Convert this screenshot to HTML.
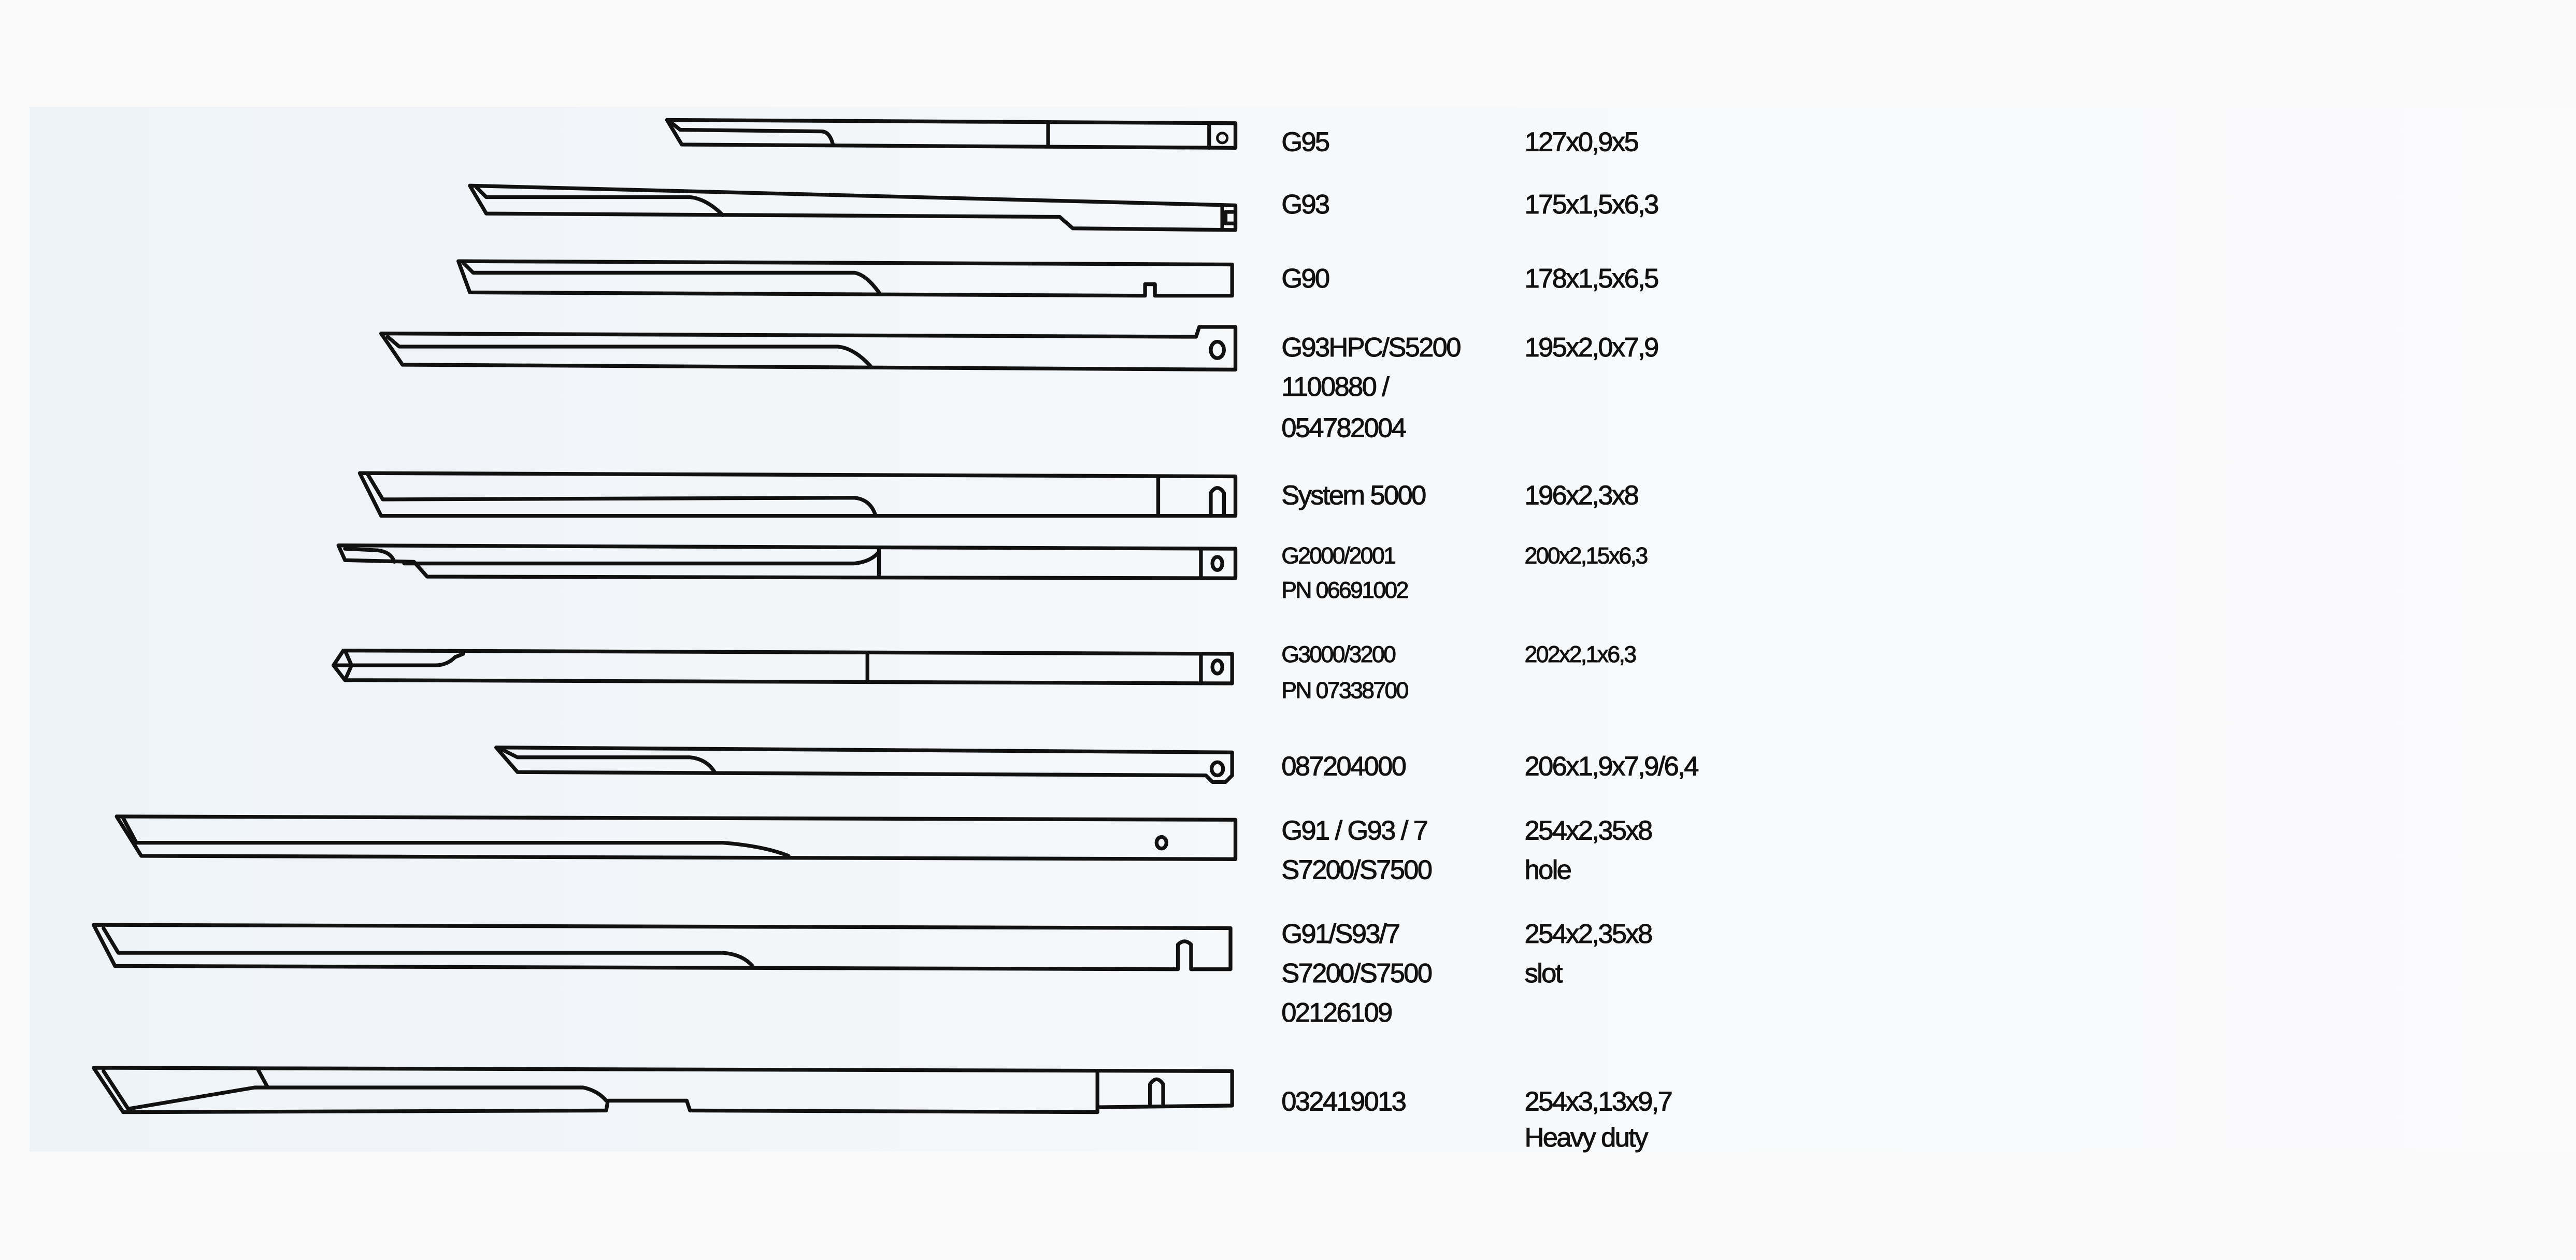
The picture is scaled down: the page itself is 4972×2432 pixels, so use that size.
<!DOCTYPE html>
<html><head><meta charset="utf-8"><style>
html,body{margin:0;padding:0;background:#fafafa;}
svg{display:block;}
text{font-family:"Liberation Sans",Arial,sans-serif;fill:#111;stroke:#111;stroke-width:0.35px;letter-spacing:-0.8px;}
.b{font-size:16.5px;}
.s{font-size:14px;}
</style></head><body>
<svg width="4972" height="2432" viewBox="0 0 1568 767" preserveAspectRatio="none" xmlns="http://www.w3.org/2000/svg">
<defs><linearGradient id="g" x1="0" x2="1" y1="0" y2="0"><stop offset="0" stop-color="#eef3f8"/><stop offset="0.5" stop-color="#f6f8fa"/><stop offset="1" stop-color="#fbfbfc"/></linearGradient></defs>
<rect width="1568" height="767" fill="#fafafa"/>
<rect x="18" y="65" width="1550" height="636" fill="url(#g)"/>
<g fill="none" stroke="#111" stroke-width="2.3" stroke-linejoin="round" stroke-linecap="round">
<!-- 1 G95 -->
<path d="M406,73 L752,75 L752,90 L415,88 Z"/>
<path d="M409,75 L414,79 L500,80 Q505,80 507,88"/>
<path d="M638,76 L638,89 M736,76 L736,90"/>
<circle cx="744" cy="84" r="3" stroke-width="1.6"/>
<!-- 2 G93 -->
<path d="M286,113 L752,125 L752,140 L653,139 L645,132 L296,130 Z"/>
<path d="M290,114 L296,120 L420,120 Q430,121 440,131"/>
<path d="M744,126 L744,139 M752,129 L746,129 L746,136 L752,136"/>
<!-- 3 G90 -->
<path d="M279,159 L750,161 L750,180 L703,180 L703,173 L697,173 L697,180 L286,178 Z"/>
<path d="M282,160 L288,166 L520,166 Q527,167 535,178"/>
<!-- 4 G93HPC -->
<path d="M232,203 L728,205 L730,199 L752,199 L752,225 L245,222 Z"/>
<path d="M236,205 L243,211 L510,211 Q520,212 530,223"/>
<ellipse cx="741" cy="213" rx="4" ry="5"/>
<!-- 5 System 5000 -->
<path d="M219,288 L752,290 L752,314 L232,314 Z"/>
<path d="M224,289 L233,304 L520,303 Q530,304 533,314"/>
<path d="M705,290 L705,314 M737,314 L737,300 Q741,294 745,300 L745,314"/>
<!-- 6 G2000 -->
<path d="M206,332 L752,334 L752,352 L260,351 L252,342 L210,341 Z"/>
<path d="M210,334 L230,335 Q238,336 240,342 M246,343 L520,343 Q530,342 535,336"/>
<path d="M535,334 L535,351 M731,334 L731,352"/>
<ellipse cx="741" cy="343" rx="3" ry="4"/>
<!-- 7 G3000 -->
<path d="M209,396 L750,398 L750,416 L210,414 L203,405 Z"/>
<path d="M203,405 L265,405 Q272,405 277,400 L282,398 M210,396 L214,405 L210,414"/>
<path d="M528,398 L528,414 M731,398 L731,416"/>
<ellipse cx="741" cy="406" rx="3" ry="4"/>
<!-- 8 087204000 -->
<path d="M302,455 L750,458 L750,472 L746,476 L738,476 L734,472 L315,470 Z"/>
<path d="M305,456 L315,461 L420,461 Q430,462 435,470"/>
<ellipse cx="741" cy="468" rx="3.5" ry="4"/>
<!-- 9 G91 hole -->
<path d="M71,497 L752,499 L752,523 L86,521 Z"/>
<path d="M75,498 L83,513 L440,513 Q465,515 480,521"/>
<ellipse cx="707" cy="513" rx="3" ry="3.5"/>
<!-- 10 G91 slot -->
<path d="M57,563 L749,565 L749,590 L725,590 L725,575 Q721,571 717,575 L717,590 L70,588 Z"/>
<path d="M63,565 L72,580 L440,580 Q452,581 458,588"/>
<!-- 11 032419013 -->
<path d="M57,650 L750,652 L750,673 L668,674 L668,677 L420,676 L418,670 L370,670 L369,676 L75,677 Z"/>
<path d="M63,652 L78,675 M78,675 L155,662 L163,662 L157,651 M163,662 L355,662 Q364,664 369,670"/>
<path d="M668,652 L668,674 M700,672 L700,660 Q704,654 708,660 L708,672"/>
</g>
<text class="b" x="780" y="92">G95</text><text class="b" x="928" y="92">127x0,9x5</text>
<text class="b" x="780" y="130">G93</text><text class="b" x="928" y="130">175x1,5x6,3</text>
<text class="b" x="780" y="175">G90</text><text class="b" x="928" y="175">178x1,5x6,5</text>
<text class="b" x="780" y="217">G93HPC/S5200</text><text class="b" x="928" y="217">195x2,0x7,9</text>
<text class="b" x="780" y="241">1100880 /</text>
<text class="b" x="780" y="266">054782004</text>
<text class="b" x="780" y="307">System 5000</text><text class="b" x="928" y="307">196x2,3x8</text>
<text class="s" x="780" y="343">G2000/2001</text><text class="s" x="928" y="343">200x2,15x6,3</text>
<text class="s" x="780" y="364">PN 06691002</text>
<text class="s" x="780" y="403">G3000/3200</text><text class="s" x="928" y="403">202x2,1x6,3</text>
<text class="s" x="780" y="425">PN 07338700</text>
<text class="b" x="780" y="472">087204000</text><text class="b" x="928" y="472">206x1,9x7,9/6,4</text>
<text class="b" x="780" y="511">G91 / G93 / 7</text><text class="b" x="928" y="511">254x2,35x8</text>
<text class="b" x="780" y="535">S7200/S7500</text><text class="b" x="928" y="535">hole</text>
<text class="b" x="780" y="574">G91/S93/7</text><text class="b" x="928" y="574">254x2,35x8</text>
<text class="b" x="780" y="598">S7200/S7500</text><text class="b" x="928" y="598">slot</text>
<text class="b" x="780" y="622">02126109</text>
<text class="b" x="780" y="676">032419013</text><text class="b" x="928" y="676">254x3,13x9,7</text>
<text class="b" x="928" y="698">Heavy duty</text>
</svg>
</body></html>
